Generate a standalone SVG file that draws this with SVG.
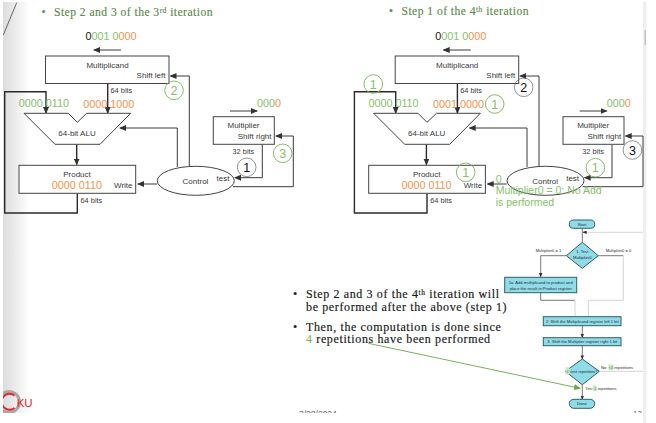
<svg xmlns="http://www.w3.org/2000/svg" width="656" height="423" viewBox="0 0 656 423">
<style>
text{font-family:"Liberation Sans",Arial,sans-serif;fill:#3a3a3a}
.lb{font-size:8px}
.sm{font-size:7.4px}
.num{font-size:10.8px}
.nt{font-size:10.5px}
.head{font-family:"Liberation Serif","Times New Roman",serif;font-size:11.6px;fill:#5a8a4a;letter-spacing:.46px;stroke:#5a8a4a;stroke-width:.15}
.body{font-family:"Liberation Serif","Times New Roman",serif;font-size:12px;fill:#1a1a1a;letter-spacing:.63px;stroke:#1a1a1a;stroke-width:.18}
.g{fill:#86c06a}.o{fill:#f4924a}.k{fill:#111}
.box{fill:#fff;stroke:#444;stroke-width:1}
.w{fill:none;stroke:#3a3a3a;stroke-width:1}
.t{fill:none;stroke:#2a2a2a;stroke-width:1.4}
.cg{fill:none;stroke:#74b658;stroke-width:.9}
.cd{fill:none;stroke:#666;stroke-width:.7}
.ct{font-size:12.5px;text-anchor:middle}
.fb{fill:#8fdbe8;stroke:#2f5f6a;stroke-width:1}
.ft{font-size:4.1px;fill:#2a2a2a;text-anchor:middle}
.fl{fill:none;stroke:#555;stroke-width:.8}
.fg{fill:none;stroke:#d4d4d4;stroke-width:1}
.hl{fill:#c4e6c0}
</style>
<defs>
<linearGradient id="edge" x1="0" x2="1" y1="0" y2="0"><stop offset="0" stop-color="#dcdcdc"/><stop offset="1" stop-color="#fff"/></linearGradient>
<marker id="a" markerWidth="7" markerHeight="6" refX="6" refY="3" orient="auto" markerUnits="userSpaceOnUse"><path d="M0 0L7 3L0 6Z" fill="#333"/></marker>
<marker id="f" markerWidth="4" markerHeight="3.600" refX="3.600" refY="1.800" orient="auto" markerUnits="userSpaceOnUse"><path d="M0 0L4 1.800L0 3.600Z" fill="#333"/></marker>
<marker id="ag" markerWidth="7" markerHeight="6" refX="6" refY="3" orient="auto" markerUnits="userSpaceOnUse"><path d="M0 0L7 3L0 6Z" fill="#6aa84a"/></marker>
</defs>
<rect width="656" height="423" fill="#fff"/>
<!-- slide edges -->
<rect x="3" y="2" width="27" height="411" fill="url(#edge)"/>
<rect x="643" y="2" width="3.500" height="421" fill="#efefef"/>
<rect x="644.500" y="30" width="1.500" height="15" fill="#c4c4c4"/>
<path d="M16.700 2.700L3.300 35" stroke="#444" stroke-width=".8" fill="none"/>
<text class="head" x="41.500" y="16">•</text>
<text class="head" x="54" y="16">Step 2 and 3 of the 3<tspan font-size="7.500" dy="-3.500">rd</tspan><tspan dy="3.500"> iteration</tspan></text>
<text class="head" x="389" y="15">•</text>
<text class="head" x="401.500" y="15">Step 1 of the 4<tspan font-size="7.500" dy="-3.500">th</tspan><tspan dy="3.500"> iteration</tspan></text>

<!-- datapath of the third iteration -->
<g id="left-path">
<g id="l-connectors">
<path class="w" d="M121 50H94" marker-end="url(#a)"/>
<path class="t" d="M107.700 83.500V113" marker-end="url(#a)"/>
<path class="t" d="M77.300 193.300V213H4.700V91.700H46V113" marker-end="url(#a)"/>
<path class="t" d="M76.700 144.300V164.500" marker-end="url(#a)"/>
<path class="w" d="M157 184H138" marker-end="url(#a)"/>
<path class="w" d="M177.300 167V128H120" marker-end="url(#a)"/>
<path class="w" d="M189.300 167V76H170.500" marker-end="url(#a)"/>
<path class="w" d="M230 111H257" marker-end="url(#a)"/>
<path class="w" d="M262.300 144.300V177.700H235" marker-end="url(#a)"/>
<path class="w" d="M233 186.700H293.300V136H276" marker-end="url(#a)"/>
</g>
<g id="l-multiplicand"><rect class="box" x="45.500" y="56" width="123.500" height="27.500"/><text class="lb" x="107.500" y="68" text-anchor="middle">Multiplicand</text><text class="lb" x="165.500" y="78" text-anchor="end">Shift left</text></g>
<g id="l-alu"><path class="box" d="M24 113.300H68.300L77.300 122.300L86.700 113.300H130.700L100 144.300H55Z"/><text class="lb" x="77" y="135.500" text-anchor="middle">64-bit ALU</text></g>
<g id="l-product"><rect class="box" x="19" y="165.300" width="116.700" height="28"/><text class="lb" x="77" y="177" text-anchor="middle">Product</text><text class="lb" x="132.500" y="188" text-anchor="end">Write</text></g>
<g id="l-multiplier"><rect class="box" x="213.300" y="116.700" width="61" height="27.600"/><text class="lb" x="243.500" y="128" text-anchor="middle">Multiplier</text><text class="lb" x="271.500" y="139" text-anchor="end">Shift right</text></g>
<g id="l-control"><ellipse class="box" cx="195.800" cy="180.800" rx="38.500" ry="14.500"/><text class="lb" x="195.500" y="183.500" text-anchor="middle">Control</text><text class="lb" x="216.500" y="181">test</text></g>
<text class="sm" x="110.500" y="93">64 bits</text><text class="sm" x="80.500" y="202.500">64 bits</text><text class="sm" x="232.500" y="154">32 bits</text>
<text class="num" x="85.500" y="39.500"><tspan class="k">0</tspan><tspan class="g">001 0</tspan><tspan class="o">000</tspan></text>
<text class="num" x="18.700" y="106.700"><tspan class="g">0000 0110</tspan></text>
<text class="num" x="83.300" y="107.700"><tspan class="o">0000 </tspan><tspan class="o">1000</tspan></text>
<text class="num" x="257" y="106.500"><tspan class="g">000</tspan><tspan class="o">0</tspan></text>
<text class="num" x="51.700" y="188.800"><tspan class="o">0000 0110</tspan></text>
<g id="l-step2"><circle class="cg" cx="174" cy="90.300" r="9.300"/><text class="ct g" x="174" y="94.800">2</text></g>
<g id="l-step3"><circle class="cg" cx="282.700" cy="153.300" r="9.300"/><text class="ct g" x="282.700" y="157.800">3</text></g>
<g id="l-step1"><circle class="cd" cx="246.700" cy="167.300" r="9.300"/><text class="ct k" x="246.700" y="171.800">1</text></g>
</g>

<!-- datapath of the fourth iteration -->
<g id="right-path" transform="translate(349.700 0)">
<g id="r-connectors">
<path class="w" d="M121 50H94" marker-end="url(#a)"/>
<path class="t" d="M107.700 83.500V113" marker-end="url(#a)"/>
<path class="t" d="M77.300 193.300V213H4.700V91.700H46V113" marker-end="url(#a)"/>
<path class="t" d="M76.700 144.300V164.500" marker-end="url(#a)"/>
<path class="w" d="M157 184H138" marker-end="url(#a)"/>
<path class="w" d="M177.300 167V128H120" marker-end="url(#a)"/>
<path class="w" d="M189.300 167V76H170.500" marker-end="url(#a)"/>
<path class="w" d="M230 111H257" marker-end="url(#a)"/>
<path class="w" d="M262.300 144.300V177.700H235" marker-end="url(#a)"/>
<path class="w" d="M233 186.700H293.300V136H276" marker-end="url(#a)"/>
</g>
<g id="r-multiplicand"><rect class="box" x="45.500" y="56" width="123.500" height="27.500"/><text class="lb" x="107.500" y="68" text-anchor="middle">Multiplicand</text><text class="lb" x="165.500" y="78" text-anchor="end">Shift left</text></g>
<g id="r-alu"><path class="box" d="M24 113.300H68.300L77.300 122.300L86.700 113.300H130.700L100 144.300H55Z"/><text class="lb" x="77" y="135.500" text-anchor="middle">64-bit ALU</text></g>
<g id="r-product"><rect class="box" x="19" y="165.300" width="116.700" height="28"/><text class="lb" x="77" y="177" text-anchor="middle">Product</text><text class="lb" x="132.500" y="188" text-anchor="end">Write</text></g>
<g id="r-multiplier"><rect class="box" x="213.300" y="116.700" width="61" height="27.600"/><text class="lb" x="243.500" y="128" text-anchor="middle">Multiplier</text><text class="lb" x="271.500" y="139" text-anchor="end">Shift right</text></g>
<g id="r-control"><ellipse class="box" cx="195.800" cy="180.800" rx="38.500" ry="14.500"/><text class="lb" x="195.500" y="183.500" text-anchor="middle">Control</text><text class="lb" x="216.500" y="181">test</text></g>
<text class="sm" x="110.500" y="93">64 bits</text><text class="sm" x="80.500" y="202.500">64 bits</text><text class="sm" x="232.500" y="154">32 bits</text>
<text class="num" x="85.500" y="39.500"><tspan class="k">0</tspan><tspan class="g">001 0</tspan><tspan class="o">000</tspan></text>
<text class="num" x="18.700" y="106.700"><tspan class="g">0000 0110</tspan></text>
<text class="num" x="83.300" y="107.700"><tspan class="o">0001 0000</tspan></text>
<text class="num" x="257" y="106.500"><tspan class="g">000</tspan><tspan class="o">0</tspan></text>
<text class="num" x="51.700" y="188.800"><tspan class="o">0000 0110</tspan></text>
<g id="r-step-alu"><circle class="cg" cx="23.600" cy="84" r="9.300"/><text class="ct g" x="23.600" y="88.500">1</text></g>
<g id="r-step-mcand"><circle class="cg" cx="145" cy="104" r="9.300"/><text class="ct g" x="145" y="108.500">1</text></g>
<g id="r-step-product"><circle class="cg" cx="116" cy="172.300" r="9.300"/><text class="ct g" x="116" y="176.800">1</text></g>
<g id="r-step2"><circle class="cd" cx="174" cy="87.300" r="9.300"/><text class="ct k" x="174" y="91.800">2</text></g>
<g id="r-step3"><circle class="cd" cx="282.700" cy="150" r="9.300"/><text class="ct k" x="282.700" y="154.500">3</text></g>
<g id="r-step1"><circle class="cg" cx="245.600" cy="167.700" r="9.300"/><text class="ct g" x="245.600" y="172.200">1</text></g>
<text class="num g" x="146" y="182.700">0</text>
<text class="nt g" x="146" y="194.300">Multiplier0 = 0: No Add</text>
<text class="nt g" x="146" y="205.700">is performed</text>
</g>

<!-- add-and-shift flow chart -->
<g id="flow-connectors">
<path class="fl" d="M582.300 228.300V242"/>
<path class="fg" d="M643 232.300H586"/><path class="fl" d="M587 232.300H583" marker-end="url(#f)"/>
<path class="fl" d="M566.300 255.700H540.700V276.700" marker-end="url(#f)"/>
<path class="fl" d="M540.700 292.700V300.300H575"/><path class="fg" d="M575 300.300V316.500"/>
<path class="fl" d="M598.300 255.700H623.300"/><path class="fg" d="M623.300 255.700V300.300H588.300V316.500"/>
<path class="fl" d="M582.300 325.700V337.500" marker-end="url(#f)"/>
<path class="fl" d="M582.300 345.700V359" marker-end="url(#f)"/>
<path class="fg" d="M599.300 371.300H643"/>
<path class="fl" d="M582.300 384.700V399.300" marker-end="url(#f)"/>
</g>
<g id="flow-start"><rect class="fb" x="569.300" y="220" width="25.400" height="8.300" rx="4.100"/><text class="ft" x="582" y="225.700">Start</text></g>
<g id="flow-test1"><path class="fb" d="M582.300 242.300L598.300 255.700L582.300 268.300L566.300 255.700Z"/><text class="ft" x="582.300" y="252.500">1.  Test</text><text class="ft" x="582.300" y="258.500">Multiplier0</text></g>
<g id="flow-1a"><rect class="fb" x="504.700" y="277.300" width="72" height="15.400"/><text class="ft" x="540.700" y="283.500">1a.  Add multiplicand to product and</text><text class="ft" x="540.700" y="289.500">place the result in Product register</text></g>
<g id="flow-shift2"><rect class="fb" x="543.300" y="316.700" width="77.700" height="9"/><text class="ft" x="582.300" y="322.500">2.  Shift the Multiplicand register left 1 bit</text></g>
<g id="flow-shift3"><rect class="fb" x="543.300" y="337.700" width="77.700" height="8"/><text class="ft" x="582.300" y="343">3.  Shift the Multiplier register right 1 bit</text></g>
<g id="flow-test2"><path class="fb" d="M582.300 359L599.300 371.300L582.300 384.700L565.300 371.300Z"/><rect class="hl" x="565.500" y="367.500" width="4" height="7"/><text class="ft" x="567.500" y="373" style="fill:#5a9a40">4</text><text class="ft" x="584" y="372.800">test repetition?</text></g>
<g id="flow-done"><rect class="fb" x="569.300" y="399.300" width="25.400" height="9" rx="4.500"/><text class="ft" x="582" y="405.300">Done</text></g>
<text class="ft" x="548.500" y="251.500">Multiplier0 = 1</text>
<text class="ft" x="618.500" y="251.500">Multiplier0 = 0</text>
<rect class="hl" x="608.500" y="364.500" width="5" height="5.500"/>
<text class="ft" x="617" y="369.200">No: <tspan style="fill:#5a9a40">&lt;4</tspan> repetitions</text>
<rect class="hl" x="593" y="385.500" width="3.500" height="5.500"/>
<text class="ft" x="601" y="389.800">Yes: <tspan style="fill:#5a9a40">4</tspan> repetitions</text>

<!-- closing remarks -->
<g id="notes">
<text class="body" x="293" y="298">•</text><text class="body" x="306" y="298">Step 2 and 3 of the 4<tspan font-size="7.500" dy="-3.500">th</tspan><tspan dy="3.500"> iteration will</tspan></text>
<text class="body" x="306" y="310.700">be performed after the above (step 1)</text>
<text class="body" x="293" y="330.700">•</text><text class="body" x="306" y="330.700">Then, the computation is done since</text>
<text class="body" x="306" y="343.300"><tspan style="fill:#7cba5a;stroke:#7cba5a">4</tspan> repetitions have been performed</text>
</g>
<path d="M368.300 343.300L580 388.300" fill="none" stroke="#6aa84a" stroke-width=".9" marker-end="url(#ag)"/>

<!-- footer -->
<g id="logo">
<circle cx="9" cy="402" r="10.500" fill="none" stroke="#a8a8a8" stroke-width="3"/>
<path d="M14.500 395.500A8 8 0 1 0 14.500 408" fill="none" stroke="#e02a2a" stroke-width="2"/>
<text x="16.700" y="407.300" font-size="11.500" style="fill:#e02a2a">KU</text>
</g>
<text x="299" y="416.500" font-size="8.500" style="fill:#666">3/28/2024</text>
<text x="633" y="416" font-size="8" style="fill:#666">13</text>
<rect x="0" y="413" width="643" height="10" fill="#fff"/>
<rect x="646.500" y="413" width="9.500" height="10" fill="#fff"/>
<rect x="0" y="0" width="3" height="423" fill="#fff"/>
</svg>
